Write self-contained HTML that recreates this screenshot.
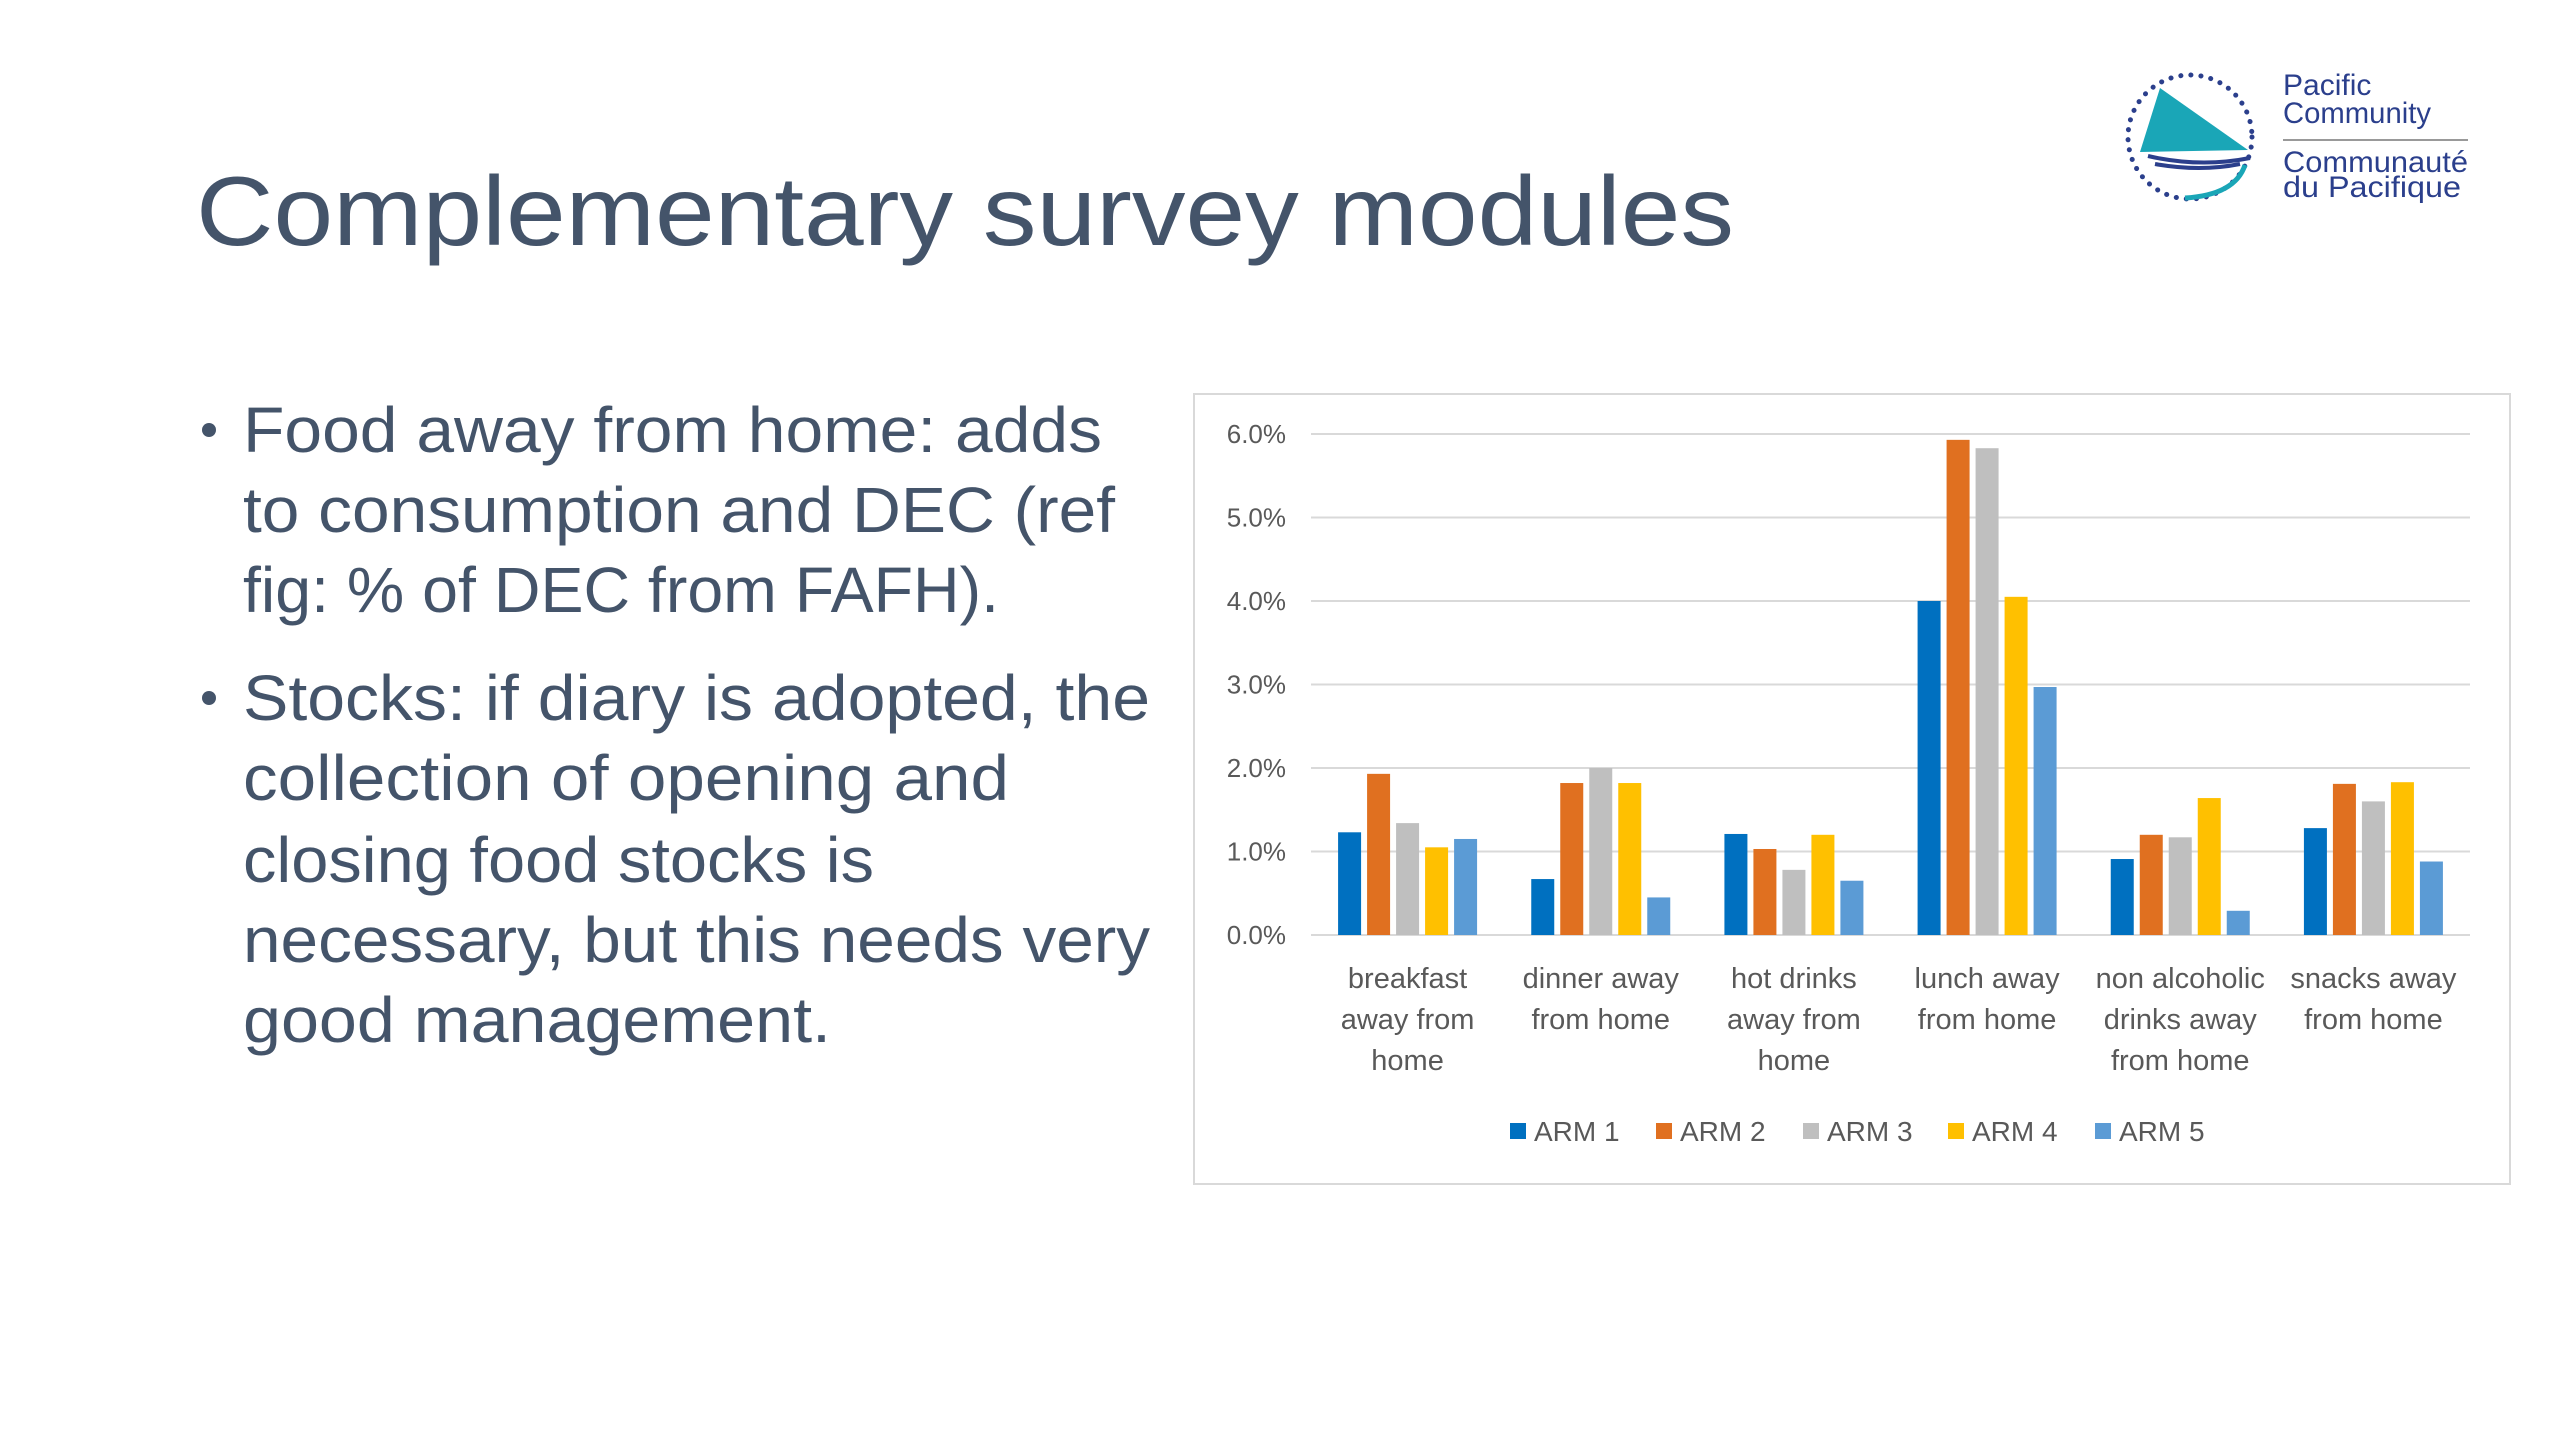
<!DOCTYPE html>
<html><head><meta charset="utf-8"><style>
html,body{margin:0;padding:0;background:#fff;}
svg{display:block;font-family:"Liberation Sans",sans-serif;}
</style></head><body>
<svg id="page" width="2560" height="1440" viewBox="0 0 2560 1440" xmlns="http://www.w3.org/2000/svg">
<rect width="2560" height="1440" fill="#fff"/>
<text x="196" y="245" font-size="98" fill="#44546a" textLength="1538" lengthAdjust="spacingAndGlyphs">Complementary survey modules</text>

<g font-size="64" fill="#44546a">
<circle cx="209" cy="430" r="7" fill="#44546a"/>
<circle cx="209" cy="698" r="7" fill="#44546a"/>
<text x="243" y="452" textLength="859" lengthAdjust="spacingAndGlyphs">Food away from home: adds</text>
<text x="243" y="532" textLength="872" lengthAdjust="spacingAndGlyphs">to consumption and DEC (ref</text>
<text x="243" y="612" textLength="756" lengthAdjust="spacingAndGlyphs">fig: % of DEC from FAFH).</text>
<text x="243" y="720" textLength="907" lengthAdjust="spacingAndGlyphs">Stocks: if diary is adopted, the</text>
<text x="243" y="800" textLength="766" lengthAdjust="spacingAndGlyphs">collection of opening and</text>
<text x="243" y="882" textLength="631" lengthAdjust="spacingAndGlyphs">closing food stocks is</text>
<text x="243" y="962" textLength="907" lengthAdjust="spacingAndGlyphs">necessary, but this needs very</text>
<text x="243" y="1042" textLength="588" lengthAdjust="spacingAndGlyphs">good management.</text>
</g>

<g>
<circle cx="2190" cy="137" r="62" fill="none" stroke="#2b3f8c" stroke-width="5" stroke-dasharray="0.1 10" stroke-linecap="round"/>
<path d="M2160 88 L2248 150 L2140 152 Z" fill="#1aa6b7"/>
<path d="M2148 156 Q2200 168 2250 158 M2155 164 Q2200 172 2240 164" stroke="#2b3f8c" stroke-width="4" fill="none"/>
<path d="M2185 198 Q2235 195 2245 165" stroke="#1aa6b7" stroke-width="5" fill="none"/>
<g fill="#2b3f8c" font-size="30">
<text x="2283" y="95">Pacific</text>
<text x="2283" y="123" textLength="148" lengthAdjust="spacingAndGlyphs">Community</text>
<text x="2283" y="172" textLength="185" lengthAdjust="spacingAndGlyphs">Communauté</text>
<text x="2283" y="197" textLength="178" lengthAdjust="spacingAndGlyphs">du Pacifique</text>
</g>
<rect x="2283" y="139" width="185" height="2" fill="#999"/>
</g>

<g id="chart">
<rect x="1194" y="394" width="1316" height="790" fill="#fff" stroke="#d9d9d9" stroke-width="2"/>
</g>
</svg>
<script>
const categories = [["breakfast","away from","home"],["dinner away","from home"],["hot drinks","away from","home"],["lunch away","from home"],["non alcoholic","drinks away","from home"],["snacks away","from home"]];
const seriesNames = ["ARM 1","ARM 2","ARM 3","ARM 4","ARM 5"];
const arm1 = [1.23, 0.67, 1.21, 4.0, 0.91, 1.28];
const arm2 = [1.93, 1.82, 1.03, 5.93, 1.2, 1.81];
const arm3 = [1.34, 2.0, 0.78, 5.83, 1.17, 1.6];
const arm4 = [1.05, 1.82, 1.2, 4.05, 1.64, 1.83];
const arm5 = [1.15, 0.45, 0.65, 2.97, 0.29, 0.88];
const yTicks = [0, 1, 2, 3, 4, 5, 6];
const yTickLabels = ["0.0%","1.0%","2.0%","3.0%","4.0%","5.0%","6.0%"];

const series = [arm1, arm2, arm3, arm4, arm5];
const colors = ["#0070c0","#e07020","#bfbfbf","#ffc000","#5b9bd5"];
const NS = "http://www.w3.org/2000/svg";
const chart = document.getElementById("chart");
const plotL = 1311, plotR = 2470, plotTop = 434, plotBot = 935, yMax = 6;
function y(v){ return plotBot - (v / yMax) * (plotBot - plotTop); }
const band = (plotR - plotL) / categories.length;
function xCenter(i){ return plotL + band * (i + 0.5); }
const barW = 23, barGap = 6;
function mk(tag, attrs){ const e = document.createElementNS(NS, tag); for (const k in attrs) e.setAttribute(k, attrs[k]); chart.appendChild(e); return e; }

yTicks.forEach((t, i) => {
  const g = mk("line", {x1: plotL, x2: plotR, y1: y(t), y2: y(t), stroke: "#d9d9d9", "stroke-width": 2});
  
  
  const lb = mk("text", {x: 1286, y: y(t) + 9, "font-size": 26, fill: "#595959", "text-anchor": "end"});
  
  
  lb.textContent = yTickLabels[i];
});

const groupW = series.length * barW + (series.length - 1) * barGap;
categories.forEach((cat, i) => {
  series.forEach((s, j) => {
    const x0 = xCenter(i) - groupW / 2 + j * (barW + barGap);
    const r = mk("rect", {x: x0, y: y(s[i]), width: barW, height: plotBot - y(s[i]), fill: colors[j]});
    
    
  });
  cat.forEach((line, k) => {
    const t = mk("text", {x: xCenter(i), y: 988 + k * 41, "font-size": 29, fill: "#595959", "text-anchor": "middle"});
    
    
    t.textContent = line;
  });
});

const legendX = [1510, 1656, 1803, 1948, 2095];
seriesNames.forEach((n, j) => {
  const sq = mk("rect", {x: legendX[j], y: 1123, width: 16, height: 16, fill: colors[j]});
  
  
  const t = mk("text", {x: legendX[j] + 24, y: 1141, "font-size": 28, fill: "#595959"});
  
  
  t.textContent = n;
});
</script>
</body></html>
